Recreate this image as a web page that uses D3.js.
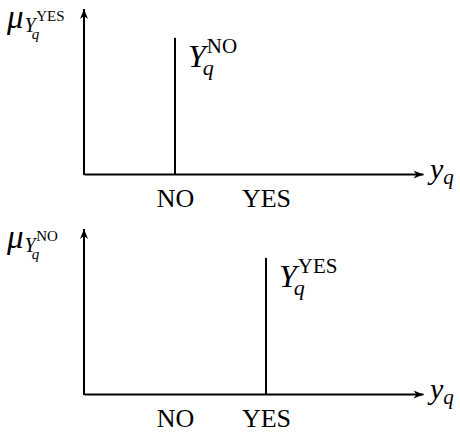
<!DOCTYPE html>
<html>
<head>
<meta charset="utf-8">
<script src="https://cdn.jsdelivr.net/npm/d3@7"></script>
<style>
  html, body { margin: 0; padding: 0; background: #fff; }
  svg { display: block; }
  text { font-family: "Liberation Serif", "Times New Roman", serif; fill: #000; }
</style>
</head>
<body>
<svg id="chart" width="460" height="432"></svg>
<script>
// Possible answer values on the horizontal axis
const categories = ["NO", "YES"];
// One panel per membership function: which answer carries the spike
const panelAnswer = ["NO", "YES"];
// Membership value of the spike in each panel
const spikeValue = [1, 1];
// Superscript of the vertical-axis label in each panel
const axisLabelSup = ["YES", "NO"];

const svg = d3.select("#chart");

const panelTop = [0, 220];

// x: category positions (1 = NO, 2 = YES), axis runs from 0 to the arrow tip
const x = d3.scaleLinear().domain([0, 3.725]).range([84, 423]);
const catPos = c => categories.indexOf(c) + 1;

// arrow heads
const defs = svg.append("defs");
defs.append("marker")
  .attr("id", "arrow")
  .attr("markerUnits", "userSpaceOnUse")
  .attr("viewBox", "-11 -5 12 10")
  .attr("refX", 0).attr("refY", 0)
  .attr("markerWidth", 12).attr("markerHeight", 10)
  .attr("orient", "auto")
  .append("path")
  .attr("d", "M0,0 L-10,-4 L-7,0 L-10,4 Z")
  .attr("fill", "#000");

panelAnswer.forEach((ans, i) => {
  const top = panelTop[i];
  const g = svg.append("g").attr("transform", `translate(0,${top})`);

  const y = d3.scaleLinear().domain([0, 1.212]).range([174, 9]);

  // horizontal axis with category labels
  const xAxis = d3.axisBottom(x)
    .tickValues(categories.map(catPos))
    .tickFormat(v => categories[v - 1])
    .tickSize(0)
    .tickSizeOuter(0)
    .tickPadding(15);
  const gx = g.append("g").attr("transform", `translate(0,${y(0)})`).call(xAxis);
  gx.attr("font-family", null).attr("font-size", null);
  gx.select(".domain")
    .attr("stroke", "#000").attr("stroke-width", 2)
    .attr("marker-end", "url(#arrow)");
  gx.selectAll(".tick text")
    .attr("font-family", "Liberation Serif, serif")
    .attr("font-size", 26)
    .attr("fill", "#000");

  // vertical axis (no ticks), arrow pointing up
  const yAxis = d3.axisLeft(y).tickValues([]).tickSizeOuter(0);
  const gy = g.append("g").attr("transform", `translate(${x(0)},0)`).call(yAxis);
  gy.select(".domain")
    .attr("d", `M0,${y(0) + 1}V${y.range()[1]}`)
    .attr("stroke", "#000").attr("stroke-width", 2)
    .attr("marker-end", "url(#arrow)");

  // the singleton spike
  const px = x(catPos(ans));
  g.append("line")
    .attr("x1", px).attr("x2", px)
    .attr("y1", y(0)).attr("y2", y(spikeValue[i]))
    .attr("stroke", "#000").attr("stroke-width", 2);

  // spike label  Y_q^{ans}
  const sl = g.append("text").attr("x", px + 13).attr("y", y(spikeValue[i]) + 29);
  sl.append("tspan").attr("font-style", "italic").attr("font-size", 32).text("Y");
  sl.append("tspan").attr("font-style", "italic").attr("font-size", 22)
    .attr("dx", -3).attr("dy", 8).text("q");
  sl.append("tspan").attr("font-size", 21)
    .attr("dx", -7).attr("dy", -22).text(ans);

  // vertical axis label  mu_{Y_q^{sup}}
  const ml = g.append("text").attr("x", 7).attr("y", 28);
  ml.append("tspan").attr("font-style", "italic").attr("font-size", 33).text("μ");
  ml.append("tspan").attr("font-style", "italic").attr("font-size", 20)
    .attr("dy", 4).attr("dx", 1).text("Y");
  ml.append("tspan").attr("font-style", "italic").attr("font-size", 15)
    .attr("dx", -4).attr("dy", 7).text("q");
  ml.append("tspan").attr("font-size", 15)
    .attr("dx", -3).attr("dy", -18).text(axisLabelSup[i]);

  // horizontal axis label y_q
  const xl = g.append("text").attr("x", 430).attr("y", y(0) + 5);
  xl.append("tspan").attr("font-style", "italic").attr("font-size", 30).text("y");
  xl.append("tspan").attr("font-style", "italic").attr("font-size", 21).attr("dy", 5).text("q");
});
</script>
</body>
</html>
